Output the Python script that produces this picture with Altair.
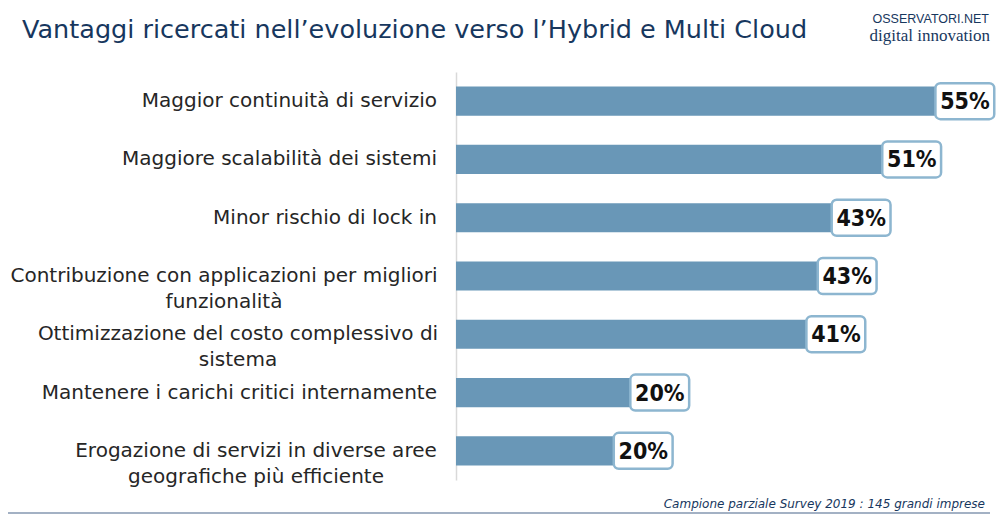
import altair as alt
import pandas as pd

categories = [
    "Maggior continuità di servizio",
    "Maggiore scalabilità dei sistemi",
    "Minor rischio di lock in",
    "Contribuzione con applicazioni per migliori funzionalità",
    "Ottimizzazione del costo complessivo di sistema",
    "Mantenere i carichi critici internamente",
    "Erogazione di servizi in diverse aree geografiche più efficiente",
]
# bar lengths as drawn (percent)
bar_values = [55, 48.9, 43.1, 41.5, 40.2, 20.0, 18.1]
# printed labels (percent)
label_values = [55, 51, 43, 43, 41, 20, 20]

single_line = [categories[0], categories[1], categories[2], categories[5]]
two_line = [
    (categories[3], ["Contribuzione con applicazioni per migliori", "funzionalità"], -232),
    (categories[4], ["Ottimizzazione del costo complessivo di", "sistema"], -218),
    (categories[6], ["Erogazione di servizi in diverse aree", "geografiche più efficiente"], -200),
]

FONT = "DejaVu Sans"
NAVY = "#17375E"

df = pd.DataFrame({
    "cat": categories,
    "bar": bar_values,
    "lab": [f"{v}%" for v in label_values],
})

y_enc = alt.Y(
    "cat:N",
    sort=categories,
    scale=alt.Scale(paddingInner=0.5, paddingOuter=0.25),
    axis=alt.Axis(labels=False, ticks=False, title=None, domain=True,
                  domainColor="#D9D9D9", domainWidth=1.5),
)
x_scale = alt.Scale(domain=[0, 60], nice=False)

base = alt.Chart(df)

bars = base.mark_bar(color="#6997B7").encode(
    x=alt.X("bar:Q", scale=x_scale, axis=None),
    y=y_enc,
)

boxes = base.transform_calculate(
    x2v="datum.bar + 6.75"
).mark_bar(
    fill="white", stroke="#8DB6D0", strokeWidth=2.5, cornerRadius=5, size=36
).encode(
    x=alt.X("bar:Q", scale=x_scale),
    x2="x2v:Q",
    y=alt.Y("cat:N", sort=categories),
)

pct = base.mark_text(
    align="center", baseline="middle", dx=29.5, dy=1,
    font="DejaVu Sans Condensed, DejaVu Sans", fontSize=23, fontWeight="bold", color="#111111",
).encode(
    x=alt.X("bar:Q", scale=x_scale),
    y=alt.Y("cat:N", sort=categories),
    text="lab:N",
)

single_df = pd.DataFrame({"cat": single_line})
single_labels = alt.Chart(single_df).mark_text(
    align="right", baseline="middle", font=FONT, fontSize=20, color="#262626",
).encode(
    x=alt.value(-19),
    y=alt.Y("cat:N", sort=categories),
    text="cat:N",
)

layers = [bars, boxes, pct, single_labels]
for cat, lines, cx in two_line:
    d = pd.DataFrame({"cat": [cat], "txt": [lines]})
    layers.append(
        alt.Chart(d).mark_text(
            align="center", baseline="middle", font=FONT, fontSize=20,
            color="#262626", lineHeight=26,
        ).encode(
            x=alt.value(cx),
            y=alt.Y("cat:N", sort=categories),
            text="txt",
        )
    )

title_txt = "Vantaggi ricercati nell\u2019evoluzione verso l\u2019Hybrid e Multi Cloud"
one = pd.DataFrame({"t": [title_txt]})
title = alt.Chart(one).mark_text(
    align="left", baseline="middle", font=FONT, fontSize=25.5, color=NAVY,
).encode(x=alt.value(-434), y=alt.value(-42), text="t:N")

logo1 = alt.Chart(pd.DataFrame({"t": ["OSSERVATORI.NET"]})).mark_text(
    align="right", baseline="middle", font="Liberation Sans", fontSize=12.5, color=NAVY,
).encode(x=alt.value(533), y=alt.value(-53), text="t:N")
logo2 = alt.Chart(pd.DataFrame({"t": ["digital innovation"]})).mark_text(
    align="right", baseline="middle", font="Liberation Serif", fontSize=17, color=NAVY,
).encode(x=alt.value(534), y=alt.value(-36), text="t:N")

footer = alt.Chart(pd.DataFrame({"t": ["Campione parziale Survey 2019 : 145 grandi imprese"]})).mark_text(
    align="right", baseline="middle", font=FONT, fontSize=12, fontStyle="italic", color=NAVY,
).encode(x=alt.value(529), y=alt.value(432), text="t:N")

footer_rule = alt.Chart(pd.DataFrame({"a": [0]})).mark_rule(
    color="#8497B0", strokeWidth=1.5
).encode(x=alt.value(-456), x2=alt.value(534), y=alt.value(441))

layers += [title, logo1, logo2, footer, footer_rule]

chart = alt.layer(*layers).properties(
    width=523,
    height=408,
    autosize=alt.AutoSizeParams(type="none"),
    padding={"left": 448, "top": 64, "right": 17, "bottom": 35},
).configure_view(stroke=None)

chart.save("out.html", embed_options={"renderer": "svg", "actions": False})
